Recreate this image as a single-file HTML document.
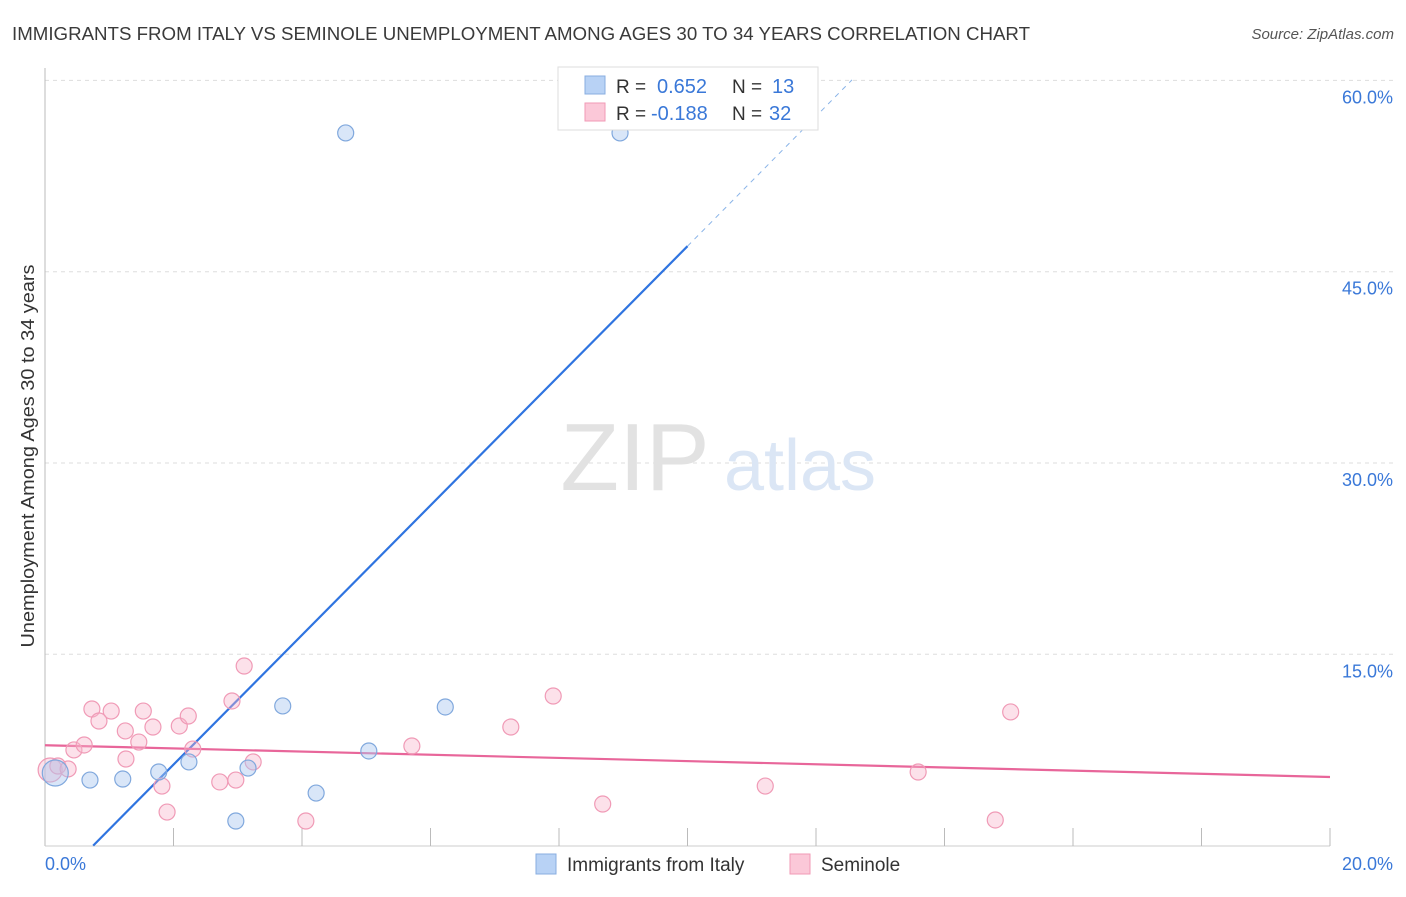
<!DOCTYPE html>
<html><head><meta charset="utf-8"><style>
body{margin:0;background:#fff;font-family:"Liberation Sans",sans-serif;}
svg text{font-family:"Liberation Sans",sans-serif;}
</style></head><body>
<svg width="1406" height="892" xmlns="http://www.w3.org/2000/svg">
<text x="12" y="40" font-size="18" fill="#3a3a3a" textLength="1018" lengthAdjust="spacingAndGlyphs">IMMIGRANTS FROM ITALY VS SEMINOLE UNEMPLOYMENT AMONG AGES 30 TO 34 YEARS CORRELATION CHART</text>
<text x="1394" y="39" font-size="15" fill="#555" font-style="italic" text-anchor="end">Source: ZipAtlas.com</text>
<g id="grid"></g>
<g id="ticks"></g>
<text x="635" y="490" font-size="96" fill="#e2e2e2" font-family="Liberation Serif" text-anchor="middle">ZIP</text>
<text x="800" y="490" font-size="72" fill="#dbe6f5" text-anchor="middle">atlas</text>
<text transform="translate(34,456) rotate(-90)" font-size="18" fill="#333" text-anchor="middle" textLength="383" lengthAdjust="spacingAndGlyphs">Unemployment Among Ages 30 to 34 years</text>
<g id="lines"></g>
<g id="points"></g>
<g>
<rect x="558" y="67" width="260" height="63" fill="#fff" stroke="#ddd"/>
<rect x="585" y="76" width="20" height="18" fill="#b8d2f5" stroke="#88aee0"/>
<rect x="585" y="103" width="20" height="18" fill="#fbc8d8" stroke="#f09ab6"/>
<text x="616" y="93" font-size="19" fill="#333">R =</text><text x="657" y="93" font-size="20" fill="#3a78d8">0.652</text>
<text x="732" y="93" font-size="19" fill="#333">N =</text><text x="772" y="93" font-size="20" fill="#3a78d8">13</text>
<text x="616" y="120" font-size="19" fill="#333">R =</text><text x="651" y="120" font-size="20" fill="#3a78d8">-0.188</text>
<text x="732" y="120" font-size="19" fill="#333">N =</text><text x="769" y="120" font-size="20" fill="#3a78d8">32</text>
</g>
<g>
<rect x="536" y="854" width="20" height="20" fill="#b8d2f5" stroke="#88aee0"/>
<text x="567" y="871" font-size="19" fill="#333">Immigrants from Italy</text>
<rect x="790" y="854" width="20" height="20" fill="#fbc8d8" stroke="#f09ab6"/>
<text x="821" y="871" font-size="19" fill="#333">Seminole</text>
</g>
</svg>
<script>
const yTicks=[15,30,45,60];
const yTickLabels=["15.0%","30.0%","45.0%","60.0%"];
const xLabels=["0.0%","20.0%"];
const italyX=[4.68,8.95,0.16,0.70,1.21,1.77,2.24,2.97,3.16,3.70,4.22,5.04,6.23];
const italyY=[55.88,55.88,5.69,5.14,5.22,5.77,6.56,1.93,6.08,10.95,4.12,7.42,10.87];
const semX=[0.08,0.20,0.36,0.45,0.61,0.73,0.84,1.03,1.25,1.26,1.46,1.53,1.68,1.82,1.90,2.09,2.23,2.30,2.72,2.91,2.97,3.10,3.24,4.06,5.71,7.25,7.91,8.68,11.21,13.59,14.79,15.03];
const semY=[5.93,6.24,6.01,7.50,7.89,10.71,9.77,10.55,8.99,6.79,8.12,10.55,9.30,4.67,2.63,9.38,10.16,7.57,4.99,11.34,5.14,14.08,6.56,1.93,7.81,9.30,11.73,3.26,4.67,5.77,2.01,10.48];
const italyTrend=[0.75,0,10,47.0,12.56,60.04];
const semTrend=[0,7.87,20,5.38];
const NS="http://www.w3.org/2000/svg";
const X=v=>45+v/20*1285, Y=v=>845.6-v/15*191.3;
function mk(t,a,p){const e=document.createElementNS(NS,t);for(const k in a)e.setAttribute(k,a[k]);document.getElementById(p).appendChild(e);return e;}
yTicks.forEach((t,i)=>{
 const l=mk('line',{x1:45,x2:1394,y1:Y(t),y2:Y(t),stroke:'#ddd','stroke-dasharray':'4,4'},'grid');
 
 
 const tx=mk('text',{x:1393,y:Y(t)+23,'font-size':18,fill:'#3a78d8','text-anchor':'end'},'grid');tx.textContent=yTickLabels[i];
 
 
});
const ax=mk('line',{x1:45,x2:45,y1:68,y2:846,stroke:'#bbb'},'ticks');


const bx=mk('line',{x1:45,x2:1330,y1:846,y2:846,stroke:'#ccc'},'ticks');


for(let i=1;i<=10;i++){const t=mk('line',{x1:X(i*2),x2:X(i*2),y1:828,y2:846,stroke:'#bbb'},'ticks');
 
 }
[[0,'start',45],[20,'end',1393]].forEach((d,i)=>{const t=mk('text',{x:d[2],y:870,'font-size':18,fill:'#3a78d8','text-anchor':d[1]},'ticks');t.textContent=xLabels[i];
 
 });
let l1=mk('line',{x1:X(italyTrend[0]),y1:Y(italyTrend[1]),x2:X(italyTrend[2]),y2:Y(italyTrend[3]),stroke:'#2f74e0','stroke-width':2.2},'lines');


let l2=mk('line',{x1:X(italyTrend[2]),y1:Y(italyTrend[3]),x2:X(italyTrend[4]),y2:Y(italyTrend[5]),stroke:'#8ab4e8','stroke-width':1,'stroke-dasharray':'5,5'},'lines');


let l3=mk('line',{x1:X(semTrend[0]),y1:Y(semTrend[1]),x2:X(semTrend[2]),y2:Y(semTrend[3]),stroke:'#e8669a','stroke-width':2.2},'lines');


semX.forEach((x,i)=>{const c=mk('circle',{cx:X(x),cy:Y(semY[i]),r:i==0?12:8,fill:'rgba(248,180,202,0.4)',stroke:'#f09ab6','stroke-width':1.2},'points');
 
 });
italyX.forEach((x,i)=>{const c=mk('circle',{cx:X(x),cy:Y(italyY[i]),r:i==2?13:8,fill:'rgba(170,200,240,0.45)',stroke:'#80a8dd','stroke-width':1.2},'points');
 
 });
</script>
</body></html>
